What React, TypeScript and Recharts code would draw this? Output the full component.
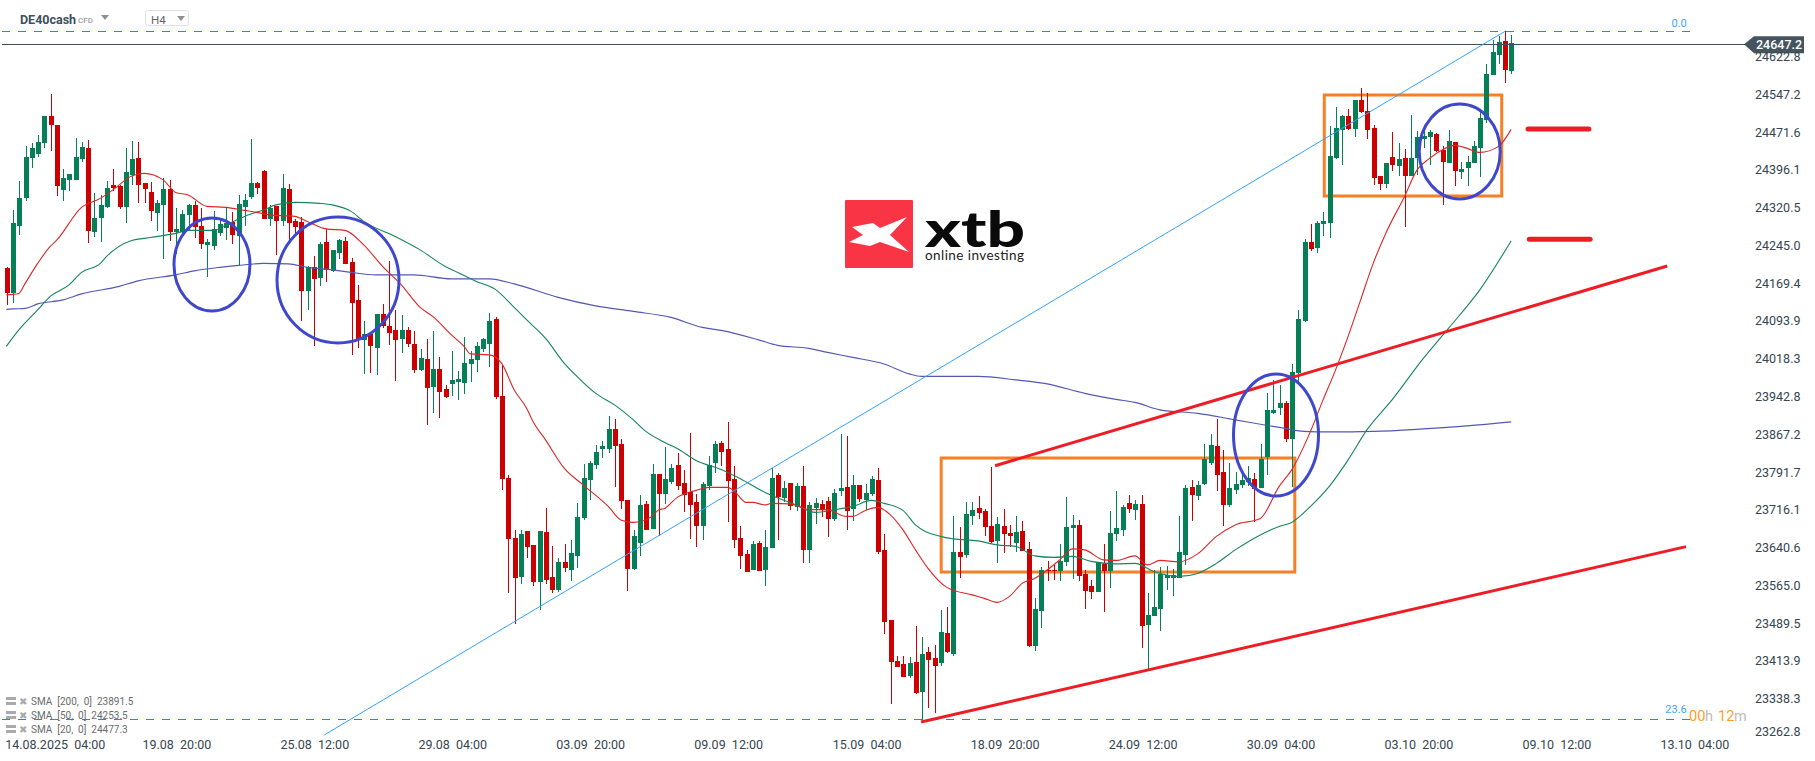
import {
  ComposedChart,
  Bar,
  Line,
  XAxis,
  YAxis,
  ReferenceLine,
  ReferenceDot,
  ReferenceArea,
} from "recharts";

// H4 candles, oldest first
const opens = [
  24199, 24150, 24284, 24340, 24420, 24428, 24450, 24504, 24486, 24356,
  24376, 24376, 24418, 24440, 24272, 24300, 24322, 24366, 24364, 24322,
  24386, 24420, 24370, 24352, 24310, 24326, 24358, 24272, 24272, 24306,
  24326, 24284, 24246, 24244, 24270, 24280, 24292, 24264, 24322, 24342,
  24370, 24394, 24298, 24324, 24294, 24358, 24294, 24292, 24154, 24202,
  24180, 24252, 24194, 24230, 24254, 24212, 24136, 24056, 24068, 24040,
  24108, 24084, 24076, 24058, 24076, 24048, 23996, 24018, 23962, 23998,
  23958, 23968, 23972, 23970, 24008, 24016, 24038, 24048, 24098, 23944,
  23780, 23660, 23582, 23674, 23646, 23572, 23672, 23582, 23556, 23612,
  23596, 23624, 23700, 23776, 23806, 23838, 23838, 23878, 23848, 23736,
  23598, 23650, 23728, 23678, 23788, 23748, 23772, 23806, 23770, 23752,
  23732, 23684, 23764, 23810, 23850, 23838, 23778, 23660, 23628, 23596,
  23650, 23596, 23640, 23786, 23740, 23770, 23722, 23764, 23636, 23720,
  23728, 23734, 23698, 23754, 23762, 23718, 23766, 23736, 23748, 23776,
  23636, 23496, 23414, 23408, 23384, 23412, 23352, 23432, 23420, 23410,
  23470, 23428, 23632, 23626, 23704, 23720, 23714, 23684, 23654, 23684,
  23670, 23650, 23674, 23638, 23444, 23514, 23596, 23596, 23594, 23612,
  23680, 23686, 23588, 23564, 23552, 23608, 23594, 23668, 23676, 23730,
  23716, 23728, 23486, 23504, 23518, 23580, 23580, 23580, 23626, 23762,
  23744, 23768, 23810, 23844, 23792, 23726, 23756, 23766, 23772, 23778,
  23760, 23822, 23910, 23920, 23930, 23858, 23990, 24094, 24252, 24240,
  24288, 24290, 24420, 24476, 24504, 24478, 24536, 24514, 24480, 24384,
  24368, 24422, 24404, 24420, 24384, 24420, 24458, 24462, 24468, 24436,
  24410, 24452, 24392, 24400, 24410, 24440, 24496, 24586, 24626, 24654,
  24594,
];
const highs = [
  24201, 24316, 24374, 24444, 24449, 24466, 24504, 24548, 24486, 24398,
  24388, 24460, 24452, 24456, 24350, 24346, 24374, 24398, 24366, 24440,
  24454, 24452, 24370, 24372, 24336, 24380, 24376, 24320, 24316, 24328,
  24334, 24320, 24258, 24314, 24296, 24320, 24312, 24346, 24348, 24458,
  24372, 24396, 24326, 24324, 24388, 24368, 24298, 24301, 24203, 24224,
  24252, 24278, 24236, 24258, 24262, 24220, 24166, 24094, 24069, 24108,
  24128, 24214, 24116, 24106, 24082, 24074, 24038, 24058, 24074, 24022,
  23966, 24034, 23994, 24062, 24034, 24052, 24060, 24110, 24102, 24006,
  23786, 23676, 23676, 23674, 23646, 23674, 23720, 23644, 23620, 23648,
  23656, 23730, 23808, 23814, 23846, 23854, 23904, 23898, 23858, 23736,
  23676, 23746, 23734, 23808, 23788, 23842, 23808, 23830, 23796, 23870,
  23748, 23772, 23824, 23854, 23854, 23892, 23804, 23684, 23636, 23654,
  23654, 23676, 23800, 23790, 23774, 23770, 23770, 23804, 23732, 23740,
  23736, 23742, 23758, 23868, 23864, 23786, 23766, 23768, 23784, 23800,
  23668, 23496, 23424, 23424, 23422, 23484, 23462, 23442, 23446, 23516,
  23522, 23704, 23682, 23732, 23732, 23744, 23718, 23802, 23702, 23718,
  23686, 23704, 23694, 23652, 23540, 23602, 23614, 23606, 23648, 23742,
  23706, 23696, 23596, 23576, 23612, 23648, 23714, 23754, 23726, 23746,
  23736, 23746, 23550, 23596, 23602, 23604, 23598, 23704, 23766, 23776,
  23774, 23848, 23868, 23898, 23836, 23810, 23792, 23796, 23804, 23790,
  23848, 23950, 23976, 23966, 23934, 24008, 24116, 24258, 24288, 24294,
  24312, 24484, 24522, 24506, 24518, 24536, 24560, 24550, 24486, 24384,
  24410, 24472, 24450, 24438, 24506, 24474, 24474, 24476, 24470, 24443,
  24476, 24452, 24412, 24424, 24454, 24516, 24608, 24656, 24664, 24674,
  24666,
];
const lows = [
  24125, 24130, 24266, 24334, 24400, 24422, 24440, 24434, 24344, 24334,
  24354, 24376, 24412, 24250, 24262, 24252, 24320, 24354, 24318, 24290,
  24366, 24330, 24330, 24294, 24274, 24218, 24254, 24228, 24264, 24276,
  24260, 24238, 24182, 24236, 24264, 24256, 24248, 24206, 24284, 24338,
  24348, 24298, 24284, 24226, 24284, 24256, 24266, 24094, 24116, 24044,
  24164, 24172, 24192, 24218, 24208, 24026, 24040, 23988, 23990, 23986,
  24080, 24046, 23974, 24030, 24042, 23990, 23994, 23886, 23910, 23900,
  23940, 23944, 23936, 23948, 23972, 23992, 24032, 24002, 23938, 23756,
  23550, 23488, 23568, 23620, 23564, 23516, 23568, 23550, 23552, 23592,
  23574, 23600, 23696, 23736, 23798, 23820, 23830, 23762, 23718, 23554,
  23596, 23624, 23676, 23678, 23664, 23728, 23768, 23756, 23712, 23658,
  23642, 23656, 23756, 23790, 23804, 23692, 23640, 23598, 23592, 23596,
  23594, 23564, 23640, 23656, 23732, 23716, 23714, 23610, 23610, 23688,
  23702, 23662, 23694, 23744, 23676, 23694, 23732, 23716, 23744, 23628,
  23468, 23328, 23402, 23382, 23380, 23348, 23289, 23320, 23310, 23404,
  23430, 23424, 23580, 23620, 23686, 23698, 23664, 23650, 23610, 23630,
  23642, 23632, 23634, 23442, 23434, 23480, 23574, 23576, 23574, 23604,
  23578, 23574, 23518, 23538, 23552, 23512, 23560, 23654, 23664, 23709,
  23696, 23440, 23396, 23504, 23474, 23556, 23544, 23580, 23606, 23694,
  23736, 23766, 23806, 23754, 23684, 23722, 23748, 23759, 23764, 23692,
  23760, 23786, 23908, 23906, 23852, 23762, 23970, 24092, 24234, 24230,
  24264, 24260, 24418, 24406, 24476, 24462, 24510, 24458, 24366, 24356,
  24360, 24394, 24384, 24282, 24384, 24386, 24440, 24406, 24432, 24326,
  24410, 24364, 24378, 24364, 24410, 24382, 24490, 24586, 24608, 24570,
  24588,
];
const closes = [
  24150, 24290, 24339, 24422, 24440, 24452, 24504, 24486, 24364, 24380,
  24388, 24422, 24442, 24274, 24300, 24326, 24360, 24360, 24322, 24392,
  24418, 24366, 24358, 24314, 24330, 24358, 24272, 24278, 24308, 24326,
  24282, 24248, 24252, 24277, 24288, 24290, 24266, 24328, 24336, 24370,
  24360, 24298, 24320, 24294, 24360, 24290, 24282, 24154, 24202, 24178,
  24248, 24196, 24236, 24256, 24208, 24130, 24056, 24068, 24044, 24108,
  24084, 24070, 24056, 24076, 24048, 23996, 24020, 23960, 23998, 23952,
  23942, 23976, 23978, 24010, 24018, 24044, 24058, 24094, 23942, 23778,
  23658, 23580, 23668, 23642, 23572, 23674, 23576, 23556, 23612, 23600,
  23630, 23702, 23780, 23810, 23832, 23844, 23878, 23844, 23734, 23598,
  23664, 23726, 23676, 23788, 23748, 23778, 23800, 23764, 23746, 23726,
  23684, 23768, 23806, 23848, 23832, 23774, 23656, 23624, 23592, 23648,
  23594, 23642, 23780, 23742, 23760, 23724, 23764, 23636, 23726, 23730,
  23716, 23698, 23750, 23760, 23714, 23766, 23738, 23750, 23778, 23632,
  23492, 23412, 23402, 23382, 23410, 23350, 23428, 23416, 23404, 23472,
  23432, 23632, 23622, 23708, 23716, 23710, 23682, 23652, 23688, 23668,
  23664, 23672, 23634, 23444, 23518, 23596, 23594, 23594, 23614, 23682,
  23686, 23584, 23554, 23552, 23612, 23594, 23670, 23680, 23722, 23718,
  23728, 23484, 23506, 23522, 23588, 23586, 23586, 23632, 23760, 23746,
  23766, 23818, 23846, 23786, 23726, 23760, 23768, 23776, 23780, 23758,
  23818, 23916, 23916, 23930, 23858, 23992, 24098, 24252, 24238, 24290,
  24294, 24424, 24480, 24504, 24478, 24536, 24512, 24476, 24380, 24368,
  24410, 24406, 24418, 24384, 24420, 24462, 24464, 24472, 24434, 24412,
  24454, 24394, 24398, 24412, 24444, 24500, 24588, 24632, 24652, 24596,
  24650,
];

// moving averages, read at [candle index, price]
const sma20Points = [
  [0, 24146], [1, 24147], [2, 24149], [3, 24169], [5, 24209], [7, 24243], [8, 24255], [12, 24321], [15, 24339],
  [17, 24356], [20, 24384], [22, 24389], [25, 24376], [27, 24351], [29, 24346], [32, 24323], [35, 24321],
  [38, 24315], [40, 24311], [42, 24306], [46, 24303], [48, 24293], [51, 24278], [54, 24275], [57, 24246],
  [60, 24203], [63, 24166], [66, 24121], [68, 24103], [71, 24066], [73, 24043], [74, 24028], [77, 24026],
  [79, 24009], [81, 23956], [83, 23919], [84, 23893], [86, 23856], [89, 23799], [92, 23766], [96, 23723],
  [98, 23696], [100, 23691], [103, 23703], [104, 23716], [105, 23719], [107, 23741], [110, 23755], [112, 23761],
  [115, 23761], [116, 23755], [118, 23731], [119, 23731], [121, 23726], [122, 23729], [125, 23728], [128, 23717],
  [131, 23716], [134, 23703], [135, 23703], [137, 23715], [139, 23721], [141, 23706], [143, 23676], [145, 23636],
  [147, 23599], [150, 23561], [154, 23546], [156, 23539], [158, 23531], [160, 23543], [162, 23569], [164, 23579],
  [168, 23616], [170, 23638], [172, 23636], [175, 23616], [177, 23615], [180, 23624], [182, 23606], [184, 23615],
  [187, 23612], [190, 23628], [193, 23663], [196, 23686], [200, 23699], [203, 23763], [205, 23796], [208, 23873],
  [210, 23936], [212, 23996], [214, 24063], [216, 24136], [218, 24209], [220, 24269], [223, 24343], [225, 24396],
  [227, 24419], [229, 24436], [231, 24445], [233, 24439], [235, 24431], [238, 24443], [240, 24477],
];
const sma50Points = [
  [0, 24043], [1, 24060], [2, 24076], [5, 24116], [7, 24143], [10, 24166], [12, 24191], [15, 24209], [16, 24223],
  [20, 24255], [22, 24259], [27, 24269], [29, 24275], [33, 24275], [35, 24286], [38, 24303], [41, 24316],
  [43, 24326], [46, 24331], [50, 24329], [52, 24326], [55, 24313], [57, 24293], [62, 24263], [66, 24236],
  [70, 24203], [72, 24191], [75, 24173], [78, 24157], [81, 24121], [83, 24096], [86, 24059], [89, 24009],
  [91, 23983], [94, 23949], [97, 23926], [100, 23896], [102, 23873], [105, 23851], [107, 23839], [110, 23815],
  [114, 23797], [117, 23779], [121, 23751], [126, 23726], [129, 23711], [132, 23716], [135, 23723], [138, 23735],
  [140, 23729], [143, 23715], [145, 23686], [149, 23663], [151, 23658], [155, 23654], [158, 23646], [161, 23643],
  [164, 23624], [167, 23621], [170, 23623], [173, 23613], [177, 23608], [180, 23609], [183, 23593], [187, 23583],
  [190, 23589], [193, 23609], [196, 23636], [200, 23666], [203, 23683], [205, 23691], [208, 23723], [211, 23763],
  [214, 23816], [217, 23876], [221, 23936], [226, 24019], [230, 24079], [235, 24156], [240, 24254],
];
const sma200Points = [
  [0, 24117], [1, 24118], [3, 24119], [5, 24128], [9, 24136], [12, 24148], [18, 24163], [21, 24174], [27, 24186],
  [30, 24194], [34, 24201], [37, 24205], [41, 24209], [45, 24208], [48, 24201], [52, 24196], [55, 24191],
  [59, 24186], [65, 24186], [71, 24178], [77, 24178], [81, 24168], [88, 24141], [94, 24124], [100, 24113],
  [106, 24101], [111, 24081], [114, 24075], [120, 24056], [123, 24045], [128, 24039], [131, 24031], [135, 24021],
  [140, 24008], [144, 23988], [146, 23983], [155, 23983], [161, 23976], [166, 23968], [172, 23949], [177, 23937],
  [180, 23931], [184, 23916], [190, 23909], [196, 23896], [203, 23881], [207, 23873], [211, 23872], [218, 23873],
  [226, 23878], [233, 23884], [240, 23892],
];

const priceTicks = [
  24622.8, 24547.2, 24471.6, 24396.1, 24320.5, 24245.0, 24169.4, 24093.9, 24018.3, 23942.8,
  23867.2, 23791.7, 23716.1, 23640.6, 23565.0, 23489.5, 23413.9, 23338.3, 23262.8,
];
const timeTicks = [7.8, 27.2, 49.2, 71.2, 93.2, 115.2, 137.3, 159.3, 181.3, 203.3, 225.3, 247.3, 269.3];
const timeLabels = [
  "14.08.2025  04:00", "19.08  20:00", "25.08  12:00", "29.08  04:00", "03.09  20:00", "09.09  12:00",
  "15.09  04:00", "18.09  20:00", "24.09  12:00", "30.09  04:00", "03.10  20:00", "09.10  12:00", "13.10  04:00",
];

const lastPrice = 24647.2;
const fibLevels = [
  { price: 24672.8, label: "0.0", labelPrice: 24689, labelX: 266 },
  { price: 23296.8, label: "23.6", labelPrice: 23318, labelX: 265.5 },
];
// drawings on the chart, in candle index / price
const thinTrend = [{ x: 50.7, y: 23265.8 }, { x: 239.1, y: 24673.8 }];
const redTrends = [
  [{ x: 157.7, y: 23804.4 }, { x: 264.9, y: 24203.8 }],
  [{ x: 145.9, y: 23291.8 }, { x: 267.9, y: 23642.6 }],
];
const redDashes = [
  [{ x: 242.7, y: 24477.8 }, { x: 252.4, y: 24477.8 }],
  [{ x: 242.9, y: 24257.2 }, { x: 252.6, y: 24257.2 }],
];
const boxes = [
  { x1: 149.1, x2: 205.5, y1: 23591.8, y2: 23819.8 },
  { x1: 210.2, x2: 238.5, y1: 24343.8, y2: 24545.8 },
];
const circles = [
  { x: 32.8, y: 24206.8, rx: 38, ry: 46.5 },
  { x: 52.9, y: 24175.8, rx: 61, ry: 63 },
  { x: 202.5, y: 23865.8, rx: 42.5, ry: 61 },
  { x: 231.8, y: 24432.8, rx: 40.5, ry: 47.5 },
];

const smaLegend = [
  { text: "SMA  [200,  0]  23891.5", y: 705 },
  { text: "SMA  [50,  0]  24253.5", y: 719 },
  { text: "SMA  [20,  0]  24477.3", y: 733 },
];

const pointMap = (points: number[][]) => new Map(points.map(([i, v]) => [i, v]));
const sma20 = pointMap(sma20Points);
const sma50 = pointMap(sma50Points);
const sma200 = pointMap(sma200Points);

const candles = opens.map((open, i) => ({
  i,
  open,
  high: highs[i],
  low: lows[i],
  close: closes[i],
  sma20: sma20.get(i) ?? null,
  sma50: sma50.get(i) ?? null,
  sma200: sma200.get(i) ?? null,
}));

const UP = "#047f56";
const DOWN = "#cc0000";

function Candle(props: any) {
  const { x, y, width, height, payload } = props;
  const { open, high, low, close } = payload;
  const perPrice = Math.abs(height) / (high - low || 1);
  const top = y + (high - Math.max(open, close)) * perPrice;
  const bodyH = Math.max(Math.abs(open - close) * perPrice, 1);
  const cx = Math.round(x + width / 2);
  const color = close >= open ? UP : DOWN;
  return (
    <g shapeRendering="crispEdges">
      <rect x={cx} y={y} width={1} height={Math.abs(height)} fill={color} />
      <rect x={cx - 2} y={top} width={5} height={bodyH} fill={color} />
    </g>
  );
}

function PriceTick({ x, y, payload }: any) {
  // the lowest label is pushed up so it stays above the time axis
  const shift = payload.value === 23262.8 ? -5 : 0;
  return (
    <text x={x + 2} y={y + 4.5 + shift} fontFamily="Roboto" fontSize={12.5} fill="#36454f">
      {payload.value.toFixed(1)}
    </text>
  );
}

function TimeTick({ x, y, index }: any) {
  return (
    <text x={x} y={y + 3} textAnchor="middle" fontFamily="Roboto" fontSize={12.5} fill="#36454f" style={{ whiteSpace: "pre" }}>
      {timeLabels[index]}
    </text>
  );
}

function PriceTag({ cx, cy }: any) {
  return (
    <g>
      <polygon points={`${cx - 1},${cy} ${cx + 9},${cy - 8} ${cx + 59},${cy - 8} ${cx + 59},${cy + 9} ${cx + 9},${cy + 9}`} fill="#45545f" />
      <text x={cx + 11} y={cy + 5} fontFamily="Roboto" fontSize={12.5} fontWeight={500} fill="#fff">
        {lastPrice}
      </text>
    </g>
  );
}

export default function App() {
  return (
    <div style={{ position: "absolute", left: 0, top: 0, width: 1815, height: 761, background: "#fff", overflow: "hidden" }}>
      <svg width={1815} height={761} style={{ position: "absolute", left: 0, top: 0 }}>
        <rect x={845} y={200} width={68} height={68} rx={1} fill="#f93445" />
        <polygon
          points="852,227 873,223 880,228 907,217 890,235 909,252 880,242 870,246 849,242 863,235"
          fill="#fff"
        />
        <text x={925} y={247} fontFamily="Lato" fontWeight={900} fontSize={50} fill="#0a0a0a" textLength={100} lengthAdjust="spacingAndGlyphs">
          xtb
        </text>
        <text x={925} y={260} fontFamily="Lato" fontSize={13.5} fill="#222" textLength={99}>
          online investing
        </text>
      </svg>

      <div style={{ position: "absolute", left: 0, top: 0 }}>
        <ComposedChart width={1815} height={761} data={candles} margin={{ top: 0, right: 0, bottom: 0, left: 0 }}>
          <XAxis
            dataKey="i"
            type="number"
            domain={[-1.0096, 277.3]}
            allowDataOverflow
            ticks={timeTicks}
            interval={0}
            height={23}
            axisLine={false}
            tickLine={false}
            tick={<TimeTick />}
          />
          <YAxis
            orientation="right"
            type="number"
            domain={[23259.8, 24735.8]}
            allowDataOverflow
            ticks={priceTicks}
            interval={0}
            width={70}
            axisLine={false}
            tickLine={false}
            tick={<PriceTick />}
          />
          <Bar
            dataKey={(d: any) => [d.low, d.high]}
            barSize={5}
            shape={<Candle />}
            isAnimationActive={false}
          />
          <Line dataKey="sma200" type="monotone" stroke="#5358b4" strokeWidth={1.1} dot={false} activeDot={false} connectNulls isAnimationActive={false} />
          <Line dataKey="sma50" type="monotone" stroke="#17855c" strokeWidth={1.1} dot={false} activeDot={false} connectNulls isAnimationActive={false} />
          <Line dataKey="sma20" type="monotone" stroke="#dc2626" strokeWidth={1.1} dot={false} activeDot={false} connectNulls isAnimationActive={false} />

          {fibLevels.map((f) => (
            <ReferenceLine
              key={f.label}
              segment={[{ x: -0.7, y: f.price }, { x: 268.5, y: f.price }]}
              stroke="#1e88e5"
              strokeDasharray="8 8"
              shapeRendering="crispEdges"
              ifOverflow="visible"
            />
          ))}
          <ReferenceLine
            segment={[{ x: -0.7, y: lastPrice }, { x: 277.3, y: lastPrice }]}
            stroke="#3d4f5c"
            shapeRendering="crispEdges"
            ifOverflow="visible"
          />
          <ReferenceLine segment={thinTrend} stroke="#33a3ff" strokeWidth={1} ifOverflow="visible" />
          {boxes.map((b, n) => (
            <ReferenceArea key={n} {...b} fill="none" stroke="#f58025" strokeWidth={3} ifOverflow="visible" />
          ))}
          {circles.map((c, n) => (
            <ReferenceDot
              key={n}
              x={c.x}
              y={c.y}
              ifOverflow="visible"
              shape={(p: any) => <ellipse cx={p.cx} cy={p.cy} rx={c.rx} ry={c.ry} fill="none" stroke="#3f47cc" strokeWidth={3} />}
            />
          ))}
          {redTrends.map((s, n) => (
            <ReferenceLine key={n} segment={s} stroke="#ee1c25" strokeWidth={3} ifOverflow="visible" />
          ))}
          {redDashes.map((s, n) => (
            <ReferenceLine key={n} segment={s} stroke="#ee1c25" strokeWidth={5} strokeLinecap="round" ifOverflow="visible" />
          ))}
          {fibLevels.map((f) => (
            <ReferenceDot
              key={f.label}
              x={f.labelX}
              y={f.labelPrice}
              ifOverflow="visible"
              shape={(p: any) => (
                <text x={p.cx + 5} y={p.cy + 4} textAnchor="middle" fontFamily="Roboto" fontSize={11} fill="#42a5f5">
                  {f.label}
                </text>
              )}
            />
          ))}
          <ReferenceDot x={277.3} y={lastPrice} ifOverflow="visible" shape={<PriceTag />} />
        </ComposedChart>
      </div>

      <svg width={1815} height={761} style={{ position: "absolute", left: 0, top: 0, pointerEvents: "none" }}>
        <text x={20} y={24} fontFamily="Roboto" fontWeight={700} fontSize={12.5} fill="#3d4f5c">DE40cash</text>
        <text x={78} y={23} fontFamily="Roboto" fontWeight={500} fontSize={8} fill="#9aa0a6">CFD</text>
        <polygon points="101,15 109,15 105,20" fill="#8f8f8f" />
        <rect x={145.5} y={10.5} width={43} height={15} rx={2} fill="#fff" stroke="#e0e0e0" />
        <text x={151} y={24} fontFamily="Roboto" fontSize={11.5} fill="#666">H4</text>
        <polygon points="177,16 185,16 181,21" fill="#8f8f8f" />

        {smaLegend.map((row) => (
          <g key={row.y}>
            <rect x={6} y={row.y - 8} width={10} height={3} fill="#aaa" />
            <rect x={6} y={row.y - 3} width={10} height={3} fill="#aaa" />
            <text x={19} y={row.y} fontFamily="DejaVu Sans" fontSize={10} fill="#aaa">✖</text>
            <text x={31} y={row.y} fontFamily="Roboto" fontSize={10} fill="#6b6b6b" style={{ whiteSpace: "pre" }}>
              {row.text}
            </text>
          </g>
        ))}

        <text y={721} fontFamily="Roboto" fontSize={14.5}>
          <tspan x={1689} fill="#ff9d1e">00</tspan>
          <tspan x={1705} fill="#bdbdbd">h</tspan>
          <tspan x={1718} fill="#ff9d1e">12</tspan>
          <tspan x={1734} fill="#bdbdbd">m</tspan>
        </text>
      </svg>
    </div>
  );
}
